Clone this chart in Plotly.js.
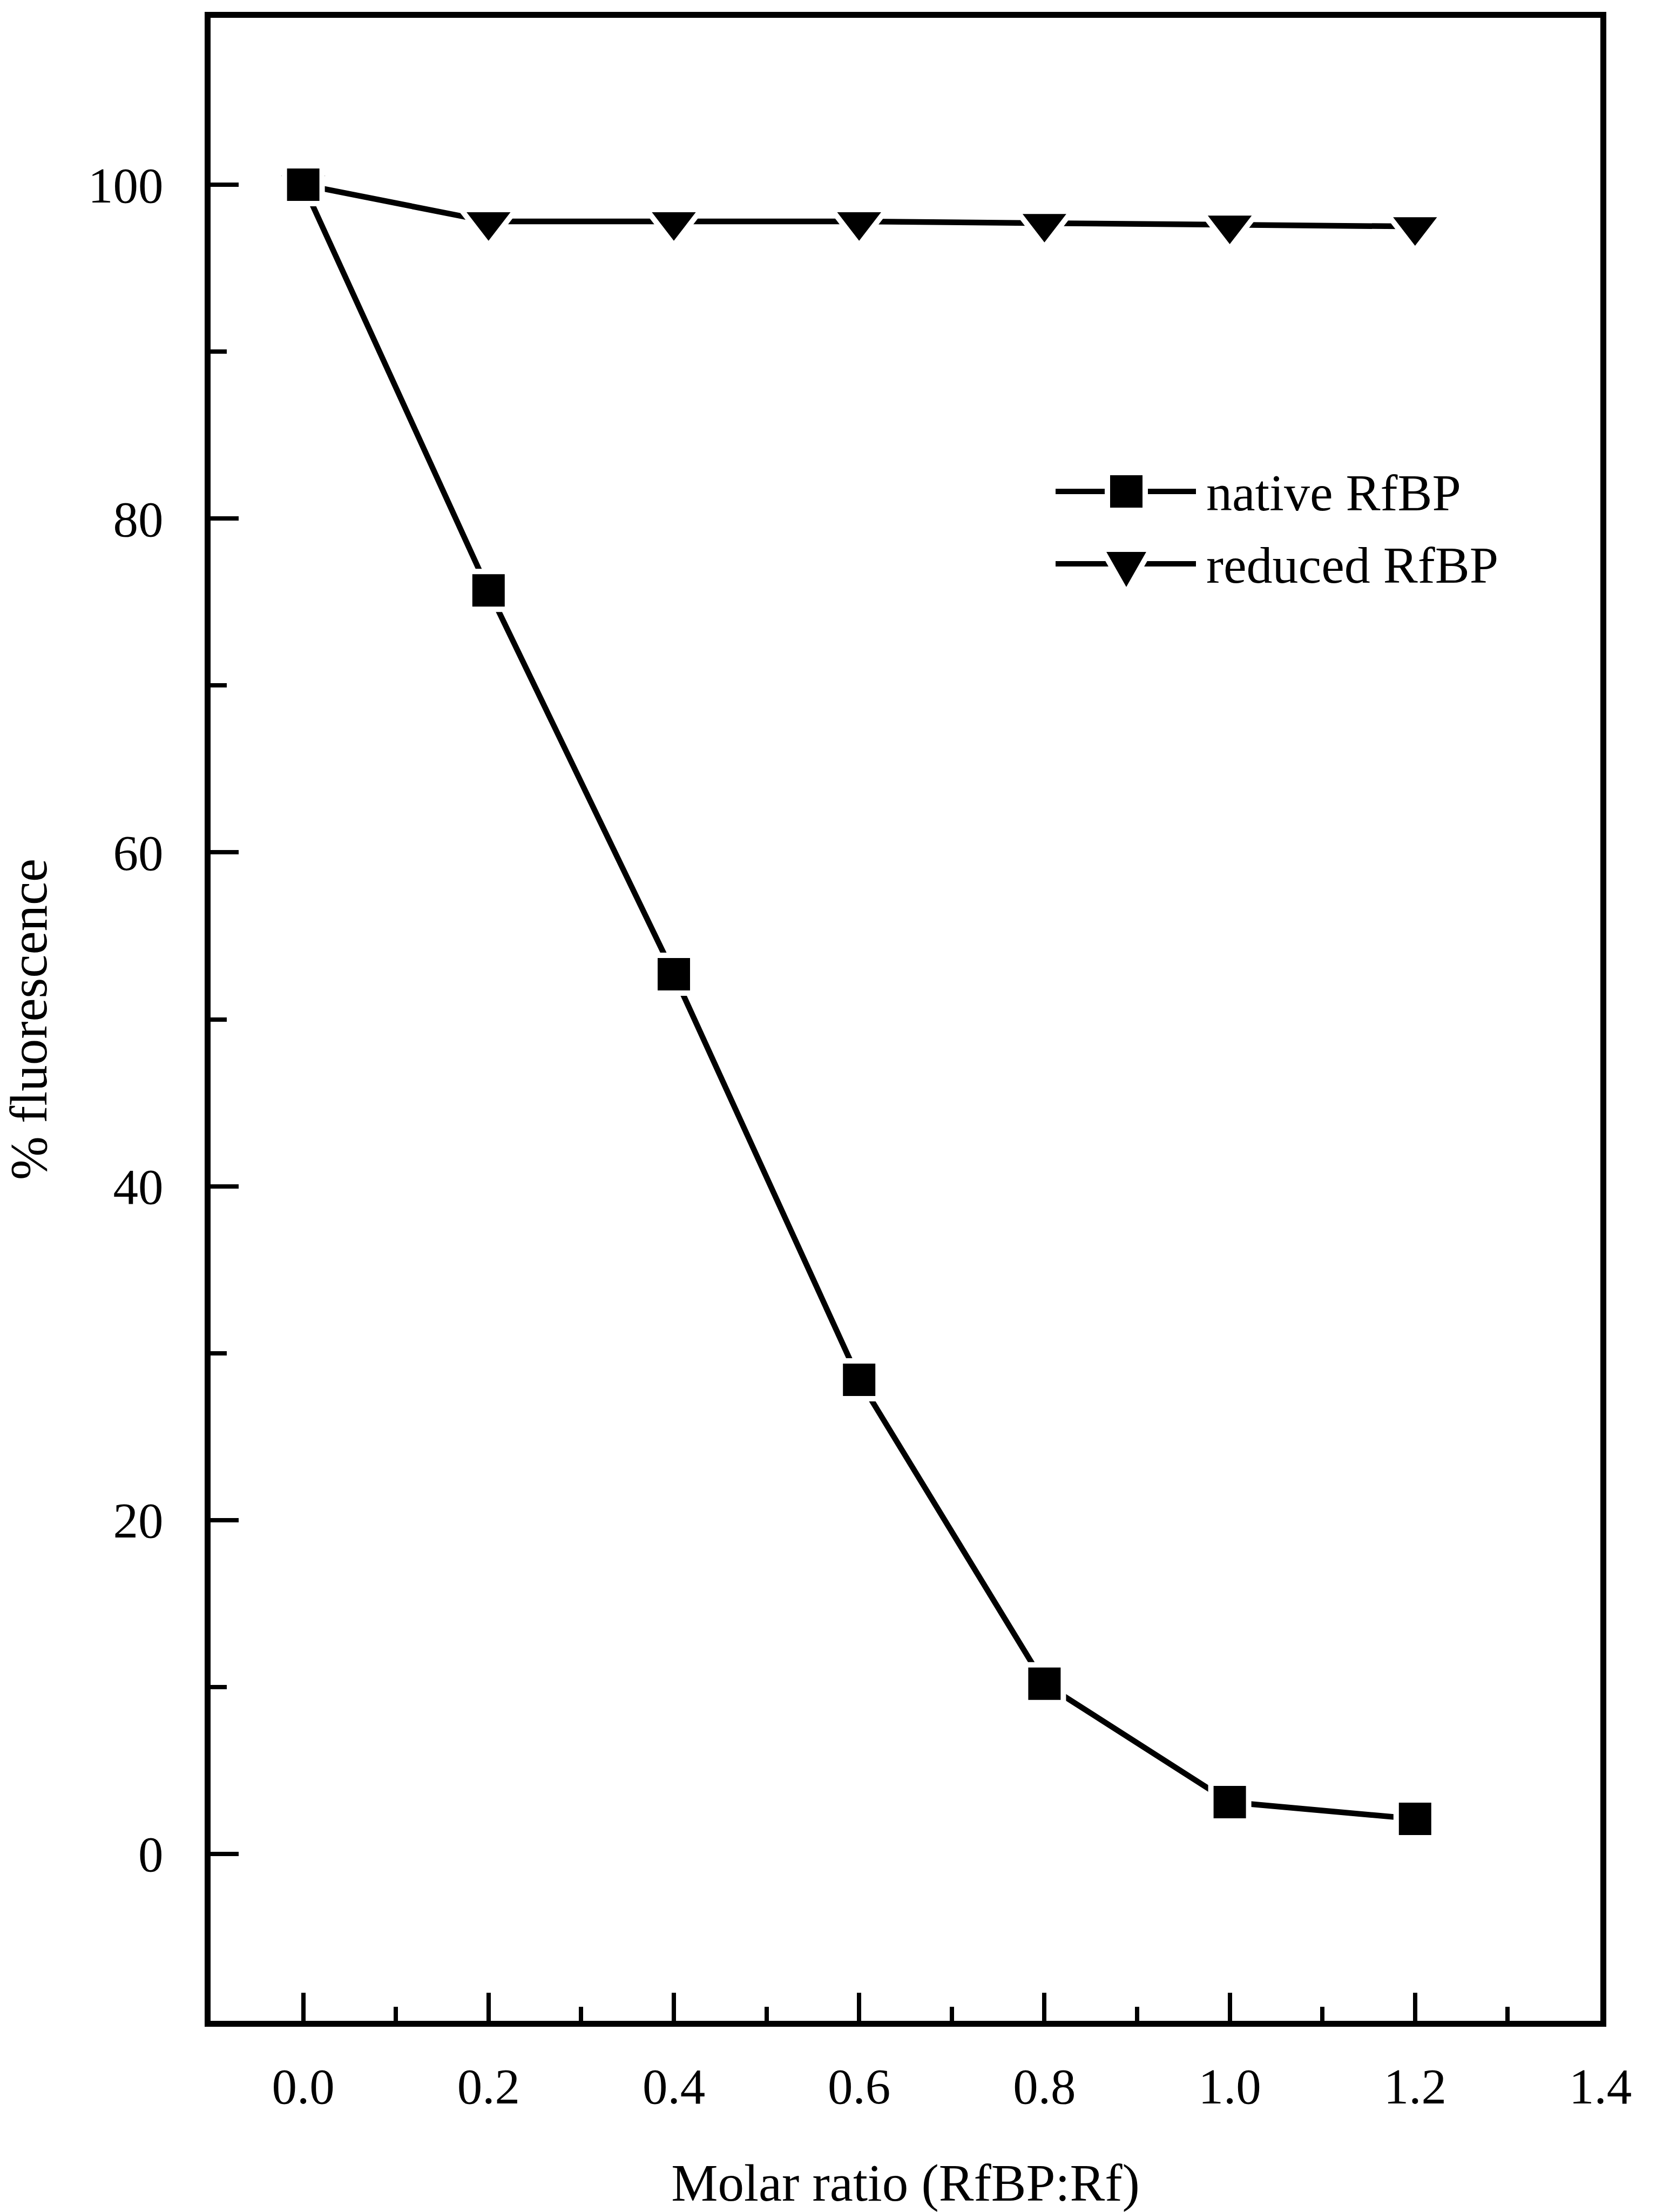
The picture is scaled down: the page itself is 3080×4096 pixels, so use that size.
<!DOCTYPE html>
<html><head><meta charset="utf-8">
<script src="https://cdn.plot.ly/plotly-3.0.1.min.js"></script>
<style>html,body{margin:0;padding:0;background:#fff}#chart{width:3080px;height:4096px}</style>
</head><body><div id="chart"></div>
<script>
// ---- data ----
const molarRatio = [0, 0.2, 0.4, 0.6, 0.8, 1.0, 1.2];
const nativeRfBP = [100, 75.7, 52.7, 28.4, 10.2, 3.1, 2.1];
const reducedRfBP = [100, 97.8, 97.8, 97.8, 97.7, 97.6, 97.5];
const seriesNames = ['native RfBP', 'reduced RfBP'];
const xTitle = 'Molar ratio (RfBP:Rf)';
const yTitle = '% fluorescence';

// ---- layout geometry (pixels) ----
const W = 3080, H = 4096;
const M = {l: 390, r: 116, t: 33, b: 354};
const PW = W - M.l - M.r, PH = H - M.t - M.b;
const px = v => (v - M.l) / PW;
const py = v => (H - M.b - v) / PH;
const FONT = 'Liberation Serif, Times New Roman, serif';
const BLACK = '#000000';

const traces = [
  {
    type: 'scatter', mode: 'lines+markers', name: seriesNames[1],
    x: molarRatio, y: reducedRfBP, showlegend: false, cliponaxis: false,
    line: {color: BLACK, width: 10.5},
    marker: {symbol: 'triangle-down', size: 88, color: BLACK, line: {color: '#ffffff', width: 10}}
  },
  {
    type: 'scatter', mode: 'lines+markers', name: seriesNames[0],
    x: molarRatio, y: nativeRfBP, showlegend: false, cliponaxis: false,
    line: {color: BLACK, width: 10.5},
    marker: {symbol: 'square', size: 70, color: BLACK, line: {color: '#ffffff', width: 10}}
  }
];

// manual legend (large symbols like the reference)
function triPath(cx, top, w, h) {
  return 'M ' + px(cx - w / 2) + ' ' + py(top) + ' L ' + px(cx + w / 2) + ' ' + py(top) +
         ' L ' + px(cx) + ' ' + py(top + h) + ' Z';
}
const legY1 = 910, legY2 = 1044, legX0 = 1955, legX1 = 2215, legCx = 2086;
const shapes = [
  {type: 'line', xref: 'paper', yref: 'paper', x0: px(legX0), x1: px(legX1), y0: py(legY1), y1: py(legY1), line: {color: BLACK, width: 10}},
  {type: 'rect', xref: 'paper', yref: 'paper', x0: px(legCx - 35), x1: px(legCx + 35), y0: py(legY1 + 35), y1: py(legY1 - 35), fillcolor: BLACK, line: {color: '#ffffff', width: 10}},
  {type: 'line', xref: 'paper', yref: 'paper', x0: px(legX0), x1: px(legX1), y0: py(legY2), y1: py(legY2), line: {color: BLACK, width: 10}},
  {type: 'path', xref: 'paper', yref: 'paper', path: triPath(legCx, 1017, 91, 80), fillcolor: BLACK, line: {color: '#ffffff', width: 10}}
];
const annotations = [
  {xref: 'paper', yref: 'paper', x: px(2232), y: py(912), xanchor: 'left', yanchor: 'middle', showarrow: false,
   text: seriesNames[0], font: {family: FONT, size: 96, color: BLACK}},
  {xref: 'paper', yref: 'paper', x: px(2232), y: py(1046), xanchor: 'left', yanchor: 'middle', showarrow: false,
   text: seriesNames[1], font: {family: FONT, size: 96, color: BLACK}}
];

const axisCommon = {
  showline: true, linewidth: 11, linecolor: BLACK, mirror: true,
  showgrid: false, zeroline: false,
  ticks: 'inside', ticklen: 52, tickwidth: 8, tickcolor: BLACK,
  tickfont: {family: FONT, size: 93, color: BLACK},
  automargin: false
};

const layout = {
  width: W, height: H,
  margin: M,
  paper_bgcolor: '#ffffff', plot_bgcolor: '#ffffff',
  showlegend: false,
  font: {family: FONT, color: BLACK},
  xaxis: Object.assign({}, axisCommon, {
    range: [-0.1, 1.4], tickmode: 'linear', tick0: 0, dtick: 0.2, tickformat: '.1f',
    ticklabelstandoff: 30,
    minor: {dtick: 0.1, tick0: 0, ticks: 'inside', ticklen: 26, tickwidth: 8, tickcolor: BLACK},
    title: {text: xTitle, font: {family: FONT, size: 97, color: BLACK}, standoff: 113}
  }),
  yaxis: Object.assign({}, axisCommon, {
    range: [-10, 110], tickmode: 'linear', tick0: 0, dtick: 20,
    ticklabelstandoff: 58,
    minor: {dtick: 10, tick0: 0, ticks: 'inside', ticklen: 30, tickwidth: 8, tickcolor: BLACK},
    title: {text: yTitle, font: {family: FONT, size: 97, color: BLACK}, standoff: 75}
  }),
  shapes: shapes,
  annotations: annotations
};

Plotly.newPlot('chart', traces, layout, {staticPlot: true, displayModeBar: false});
</script>
</body></html>
